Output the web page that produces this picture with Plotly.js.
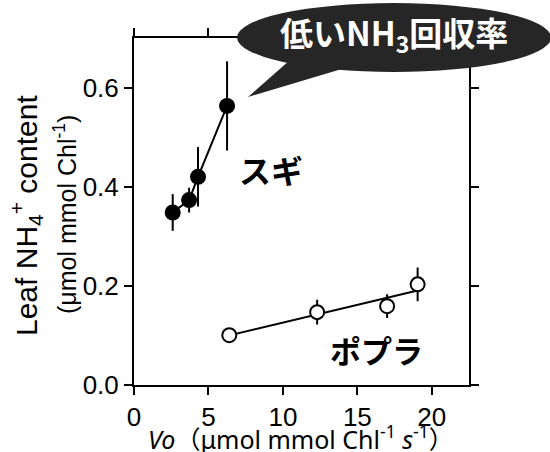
<!DOCTYPE html>
<html><head><meta charset="utf-8">
<script src="https://cdn.plot.ly/plotly-3.0.1.min.js"></script>
<style>html,body{margin:0;padding:0;background:#fff}#c{width:550px;height:452px}</style>
</head><body><div id="c"></div>
<script>
// Sugi (Japanese cedar), filled circles
const sugiVo = [2.6, 3.7, 4.3, 6.25];
const sugiNH4 = [0.348, 0.373, 0.42, 0.563];
const sugiErr = [0.037, 0.025, 0.06, 0.09];
// Poplar, open circles
const poplarVo = [6.4, 12.3, 17.0, 19.05];
const poplarNH4 = [0.1005, 0.147, 0.159, 0.203];
const poplarErr = [0, 0.025, 0.024, 0.034];
const xTicks = [0, 5, 10, 15, 20];
const yTicks = [0, 0.2, 0.4, 0.6];

function fit(xs, ys) {
  const n = xs.length;
  const mx = xs.reduce((a, b) => a + b, 0) / n;
  const my = ys.reduce((a, b) => a + b, 0) / n;
  let sxy = 0, sxx = 0;
  for (let i = 0; i < n; i++) { sxy += (xs[i] - mx) * (ys[i] - my); sxx += (xs[i] - mx) ** 2; }
  const b = sxy / sxx, a = my - b * mx;
  const x0 = Math.min(...xs), x1 = Math.max(...xs);
  return { x: [x0, x1], y: [a + b * x0, a + b * x1] };
}
const pf = fit(poplarVo, poplarNH4);

const L = 134, R = 469, T = 38, B = 385;
const px = v => (v - L) / (R - L);
const py = v => (B - v) / (B - T);

const traces = [
  { x: sugiVo, y: sugiNH4, mode: 'lines', line: { color: '#000', width: 2 }, hoverinfo: 'skip', showlegend: false },
  { x: pf.x, y: pf.y, mode: 'lines', line: { color: '#000', width: 2 }, hoverinfo: 'skip', showlegend: false },
  { x: sugiVo, y: sugiNH4, mode: 'markers', marker: { color: '#000', size: 16 },
    error_y: { type: 'data', array: sugiErr, visible: true, color: '#000', thickness: 2, width: 0 }, showlegend: false },
  { x: poplarVo, y: poplarNH4, mode: 'markers', marker: { size: 1, opacity: 0 },
    error_y: { type: 'data', array: poplarErr, visible: true, color: '#000', thickness: 2, width: 0 }, showlegend: false, hoverinfo: 'skip' },
  { x: poplarVo, y: poplarNH4, mode: 'markers', marker: { color: '#fff', size: 14, line: { color: '#000', width: 2 } }, showlegend: false }
];

const axisCommon = {
  showline: true, linecolor: '#000', linewidth: 2, mirror: 'ticks',
  ticks: 'outside', ticklen: 8, tickwidth: 2, tickcolor: '#000',
  showgrid: false, zeroline: false,
  tickfont: { family: '"Liberation Sans", Arial, sans-serif', size: 26, color: '#000' }
};

const layout = {
  width: 550, height: 452,
  margin: { l: L, r: 550 - R, t: T, b: 452 - B },
  paper_bgcolor: '#fff', plot_bgcolor: '#fff',
  showlegend: false,
  xaxis: Object.assign({}, axisCommon, {
    range: [0, 22.5], tickvals: xTicks, ticktext: xTicks.map(String)
  }),
  yaxis: Object.assign({}, axisCommon, {
    range: [0, 0.7], tickvals: yTicks, ticktext: yTicks.map(v => v.toFixed(1))
  }),
  shapes: [
    { type: 'circle', xref: 'paper', yref: 'paper', x0: px(237), x1: px(551), y0: py(72), y1: py(3),
      fillcolor: '#262626', line: { width: 0 }, layer: 'above' },
    { type: 'path', xref: 'paper', yref: 'paper',
      path: `M ${px(248)} ${py(97)} L ${px(290)} ${py(60)} L ${px(345)} ${py(68)} Z`,
      fillcolor: '#262626', line: { width: 0 }, layer: 'above' }
  ],
  annotations: [
    { xref: 'paper', yref: 'paper', x: px(394), y: py(34), xanchor: 'center', yanchor: 'middle', showarrow: false,
      text: '<b>低いNH<sub>3</sub>回収率</b>',
      font: { family: '"Noto Sans CJK JP", sans-serif', size: 33, color: '#fff' } },
    { xref: 'x', yref: 'y', x: 9.2, y: 0.436, xanchor: 'center', yanchor: 'middle', showarrow: false, text: '<b>スギ</b>',
      font: { family: '"Noto Sans CJK JP", sans-serif', size: 32, color: '#000' } },
    { xref: 'x', yref: 'y', x: 16.3, y: 0.072, xanchor: 'center', yanchor: 'middle', showarrow: false, text: '<b>ポプラ</b>',
      font: { family: '"Noto Sans CJK JP", sans-serif', size: 31, color: '#000' } },
    { xref: 'paper', yref: 'paper', x: px(301), y: py(437), xanchor: 'center', yanchor: 'middle', showarrow: false,
      text: '<i>Vo</i>（μmol mmol Chl<sup>-1</sup> <i>s</i><sup>-1</sup>）',
      font: { family: '"Noto Sans", "Noto Sans CJK JP", sans-serif', size: 25, color: '#000' } },
    { xref: 'paper', yref: 'paper', x: 0, y: py(216), xshift: 26 - L, xanchor: 'center', yanchor: 'middle', showarrow: false, textangle: -90,
      text: 'Leaf NH<sub>4</sub><sup>+</sup> content',
      font: { family: '"Liberation Sans", Arial, sans-serif', size: 30, color: '#000' } },
    { xref: 'paper', yref: 'paper', x: 0, y: py(215), xshift: 65 - L, xanchor: 'center', yanchor: 'middle', showarrow: false, textangle: -90,
      text: '(μmol mmol Chl<sup>-1</sup>)',
      font: { family: '"Liberation Sans", Arial, sans-serif', size: 25, color: '#000' } }
  ]
};

Plotly.newPlot('c', traces, layout, { displayModeBar: false, staticPlot: true });
</script>
</body></html>
